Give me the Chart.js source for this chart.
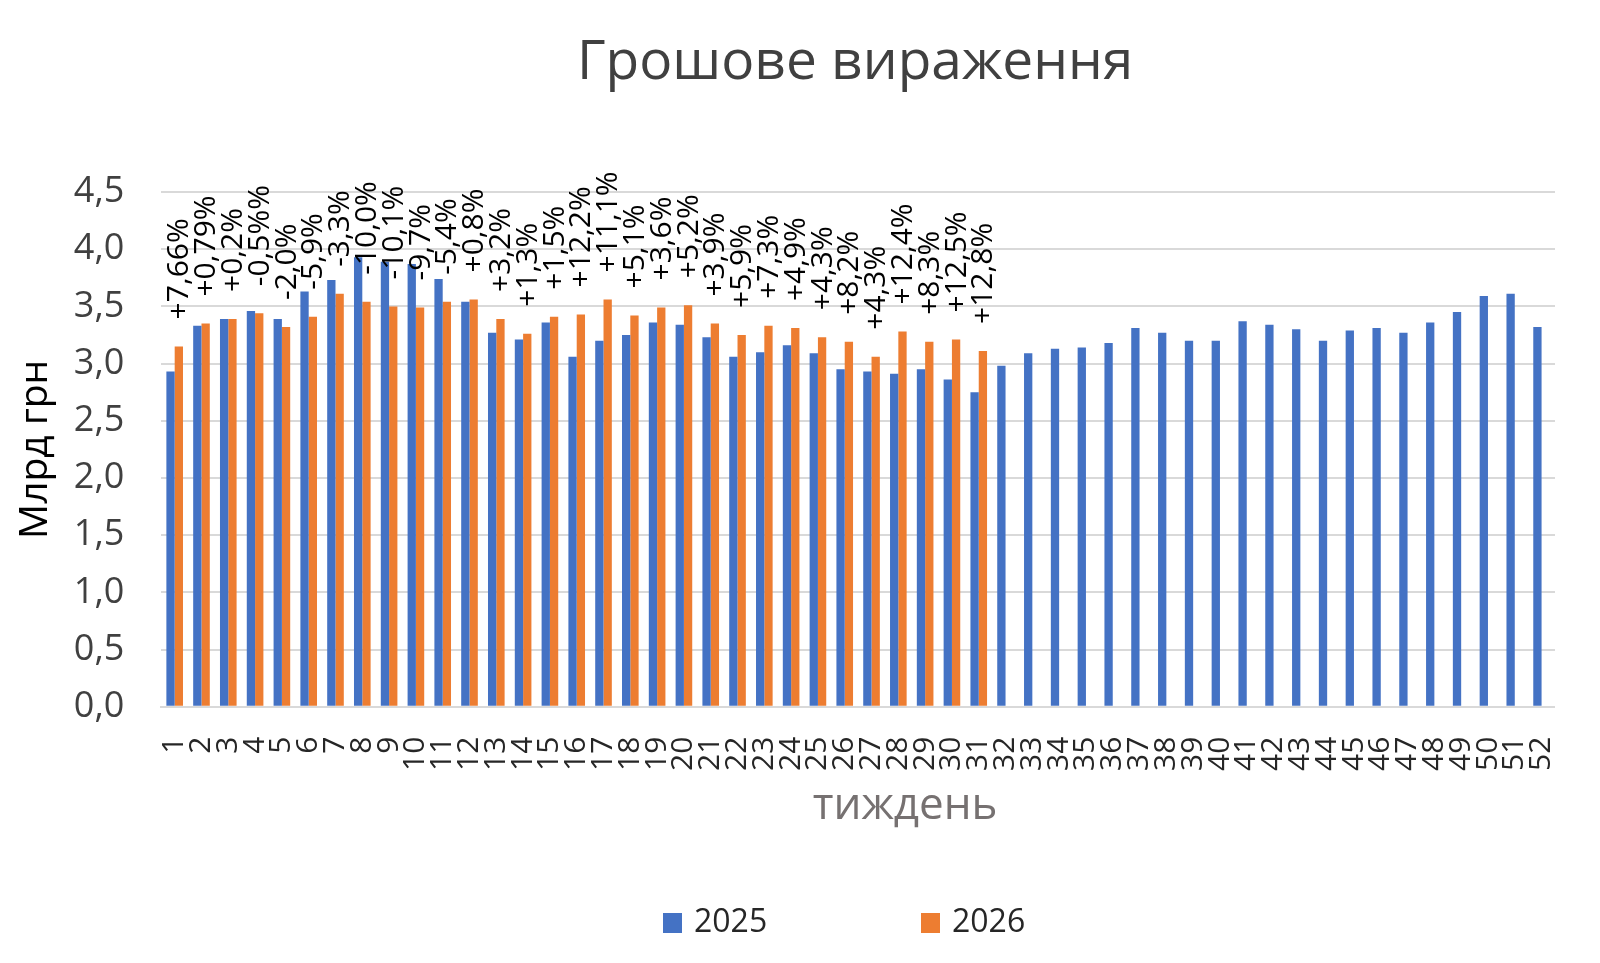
<!DOCTYPE html>
<html>
<head>
<meta charset="utf-8">
<script src="https://cdn.jsdelivr.net/npm/chart.js@4"></script>
<style>
  html, body { margin: 0; padding: 0; background: #fff; }
  #wrap { width: 1600px; height: 963px; position: relative; }
</style>
</head>
<body>
<div id="wrap"><canvas id="moneyChart"></canvas></div>
<script>
// weeks 1..52
var weeks = [];
for (var w = 1; w <= 52; w++) { weeks.push(String(w)); }

// 2025, bln UAH
var values2025 = [
  2.93, 3.33, 3.39, 3.46, 3.39, 3.63, 3.73, 3.93, 3.89, 3.87,
  3.74, 3.54, 3.27, 3.21, 3.36, 3.06, 3.20, 3.25, 3.36, 3.34,
  3.23, 3.06, 3.10, 3.16, 3.09, 2.95, 2.93, 2.91, 2.95, 2.86,
  2.75, 2.98, 3.09, 3.13, 3.14, 3.18, 3.31, 3.27, 3.20, 3.20,
  3.37, 3.34, 3.30, 3.20, 3.29, 3.31, 3.27, 3.36, 3.45, 3.59,
  3.61, 3.32
];

// 2026, bln UAH (only 31 weeks so far)
var values2026 = [
  3.15, 3.35, 3.39, 3.44, 3.32, 3.41, 3.61, 3.54, 3.50, 3.49,
  3.54, 3.56, 3.39, 3.26, 3.41, 3.43, 3.56, 3.42, 3.49, 3.51,
  3.35, 3.25, 3.33, 3.31, 3.23, 3.19, 3.06, 3.28, 3.19, 3.21,
  3.11
];

// change vs 2025, as printed over the 2026 bars
var changeLabels = [
  '+7,66%', '+0,79%', '+0,2%', '-0,5%%', '-2,0%', '-5,9%', '-3,3%', '-10,0%', '-10,1%', '-9,7%',
  '-5,4%', '+0,8%', '+3,2%', '+1,3%', '+1,5%', '+12,2%', '+11,1%', '+5,1%', '+3,6%', '+5,2%',
  '+3,9%', '+5,9%', '+7,3%', '+4,9%', '+4,3%', '+8,2%', '+4,3%', '+12,4%', '+8,3%', '+12,5%',
  '+12,8%'
];

var seriesNames = ['2025', '2026'];
var seriesColors = ['#4472C4', '#ED7D31'];

var chartTitle = 'Грошове вираження';
var xTitle = 'тиждень';

var FONT = '"Open Sans", "Noto Sans", sans-serif';

// pad the rest of 2026 with nulls so both series cover 52 weeks
var data2026 = values2026.slice();
while (data2026.length < weeks.length) { data2026.push(null); }

// Title, percent labels, x-axis caption and legend drawn on top of the chart
var overlayPlugin = {
    id: 'overlay',
    afterDatasetsDraw: function(chart) {
        var ctx = chart.ctx;
        var meta = chart.getDatasetMeta(1);
        ctx.save();
        ctx.font = '30px ' + FONT;
        ctx.fillStyle = '#000000';
        ctx.textAlign = 'left';
        ctx.textBaseline = 'middle';
        for (var i = 0; i < changeLabels.length; i++) {
            var bar = meta.data[i];
            if (!bar) { continue; }
            ctx.save();
            ctx.translate(bar.x + 1, bar.y - 27);
            ctx.rotate(-Math.PI / 2);
            ctx.fillText(changeLabels[i], 0, 0);
            ctx.restore();
        }
        ctx.restore();
    },
    afterDraw: function(chart) {
        var ctx = chart.ctx;
        var area = chart.chartArea;
        var midX = (area.left + area.right) / 2;
        ctx.save();
        ctx.textBaseline = 'middle';

        // chart title, centred over the plot
        ctx.font = '55px ' + FONT;
        ctx.fillStyle = '#404040';
        ctx.textAlign = 'center';
        ctx.fillText(chartTitle, midX - 3, 63);

        // x axis caption
        ctx.font = '44px ' + FONT;
        ctx.fillStyle = '#767171';
        ctx.fillText(xTitle, midX + 47, 806);

        // legend
        var legendX = [663, 921];
        ctx.font = '32px ' + FONT;
        ctx.textAlign = 'left';
        for (var i = 0; i < seriesNames.length; i++) {
            ctx.fillStyle = seriesColors[i];
            ctx.fillRect(legendX[i], 913, 19, 20);
            ctx.fillStyle = '#262626';
            ctx.fillText(seriesNames[i], legendX[i] + 31, 923);
        }
        ctx.restore();
    }
};

new Chart(document.getElementById('moneyChart'), {
    type: 'bar',
    data: {
        labels: weeks,
        datasets: [{
            label: seriesNames[0],
            data: values2025,
            backgroundColor: seriesColors[0],
            categoryPercentage: 0.62,
            barPercentage: 1.0
        }, {
            label: seriesNames[1],
            data: data2026,
            backgroundColor: seriesColors[1],
            categoryPercentage: 0.62,
            barPercentage: 1.0
        }]
    },
    options: {
        responsive: true,
        maintainAspectRatio: false,
        animation: false,
        devicePixelRatio: 1,
        layout: {
            padding: { left: 7, right: 44, top: 192, bottom: 170 }
        },
        plugins: {
            legend: { display: false },
            tooltip: { enabled: false },
            title: { display: false }
        },
        scales: {
            x: {
                grid: { display: false },
                border: { display: true, color: '#D9D9D9', width: 2 },
                ticks: {
                    autoSkip: false,
                    maxRotation: 90,
                    minRotation: 90,
                    padding: 22,
                    color: '#262626',
                    font: { family: FONT, size: 30 }
                }
            },
            y: {
                min: 0,
                max: 4.5,
                grid: { color: '#D9D9D9', lineWidth: 2, drawTicks: false },
                border: { display: false },
                ticks: {
                    stepSize: 0.5,
                    padding: 37,
                    color: '#404040',
                    font: { family: FONT, size: 36 },
                    callback: function(v) { return v.toFixed(1).replace('.', ','); }
                },
                title: {
                    display: true,
                    text: 'Млрд грн',
                    color: '#000000',
                    font: { family: FONT, size: 39 },
                    padding: { top: 5, bottom: -22 }
                }
            }
        }
    },
    plugins: [overlayPlugin]
});
</script>
</body>
</html>
